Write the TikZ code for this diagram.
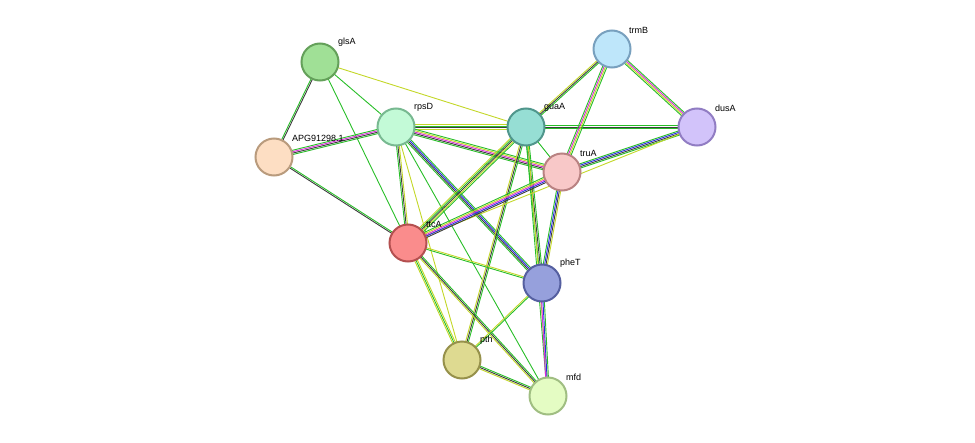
\documentclass[tikz,border=0pt]{standalone}
\usepackage{fontspec}
\setmainfont{Liberation Sans}
\usetikzlibrary{calc}
\definecolor{eg}{RGB}{40,190,40}
\definecolor{ey}{RGB}{195,215,40}
\definecolor{ek}{RGB}{60,60,60}
\definecolor{eb}{RGB}{40,40,230}
\definecolor{em}{RGB}{220,40,220}
\newcommand{\Edge}[3]{%
  \foreach \c [count=\i] in {#3}{\xdef\nn{\i}}%
  \foreach \c [count=\i] in {#3}{%
    \pgfmathsetmacro{\o}{(\i-(\nn+1)/2)*1.4}%
    \draw[line width=0.9pt,\c] ($(#1)!\o pt!90:(#2)$) -- ($(#2)!\o pt!-90:(#1)$);}}
\tikzset{nd/.style={circle,minimum size=37pt,line width=2pt,inner sep=0pt},
lb/.style={font=\fontsize{9}{10}\selectfont,anchor=south west,inner sep=1pt}}
\begin{document}
\begin{tikzpicture}[x=1pt,y=-1pt]
\useasboundingbox (0,0) rectangle (975,442);
\coordinate (glsA) at (320,62);
\coordinate (trmB) at (612,49);
\coordinate (rpsD) at (396,127);
\coordinate (guaA) at (526,127);
\coordinate (dusA) at (697,127);
\coordinate (APG) at (274,157);
\coordinate (truA) at (562,172);
\coordinate (ttcA) at (408,243);
\coordinate (pheT) at (542,283);
\coordinate (pth) at (462,360);
\coordinate (mfd) at (548,396);
\Edge{glsA}{APG}{eg,ek}
\Edge{glsA}{rpsD}{eg}
\Edge{glsA}{guaA}{ey}
\Edge{glsA}{ttcA}{eg}
\Edge{APG}{rpsD}{eg,ek,em,eg}
\Edge{APG}{ttcA}{ek,eg}
\Edge{rpsD}{guaA}{ey,ek,eg,ey}
\Edge{rpsD}{truA}{eg,ek,em,ey,eg}
\Edge{rpsD}{ttcA}{eg,ek,ey}
\Edge{rpsD}{pheT}{eg,ek,eb,eg}
\Edge{rpsD}{mfd}{eg}
\Edge{rpsD}{pth}{ey}
\Edge{guaA}{dusA}{eg,ek,eg}
\Edge{guaA}{trmB}{eg,ek,ey}
\Edge{guaA}{truA}{eg}
\Edge{guaA}{ttcA}{ey,eg,ek,ey,eg}
\Edge{guaA}{pheT}{eg,ek,eg}
\Edge{guaA}{pth}{ey,ek,eg}
\Edge{guaA}{mfd}{eg,ey}
\Edge{trmB}{dusA}{eg,ey,em,eg}
\Edge{trmB}{truA}{eg,em,ey,eg}
\Edge{dusA}{truA}{eg,eb,ek,eg}
\Edge{dusA}{ttcA}{ey}
\Edge{truA}{ttcA}{eg,ey,em,eb,ek}
\Edge{truA}{pheT}{eg,eb,ek,ey}
\Edge{ttcA}{pheT}{eg,ey}
\Edge{ttcA}{pth}{ey,eg,ey}
\Edge{ttcA}{mfd}{ey,ek,eg}
\Edge{pheT}{pth}{ey,eg}
\Edge{pheT}{mfd}{em,eb,eg}
\Edge{pth}{mfd}{ey,ek,eg}
\node[nd,fill={rgb,255:red,160;green,224;blue,150},draw={rgb,255:red,100;green,160;blue,90}] (n1) at (glsA) {};
\node[nd,fill={rgb,255:red,190;green,230;blue,250},draw={rgb,255:red,120;green,160;blue,190}] (n2) at (trmB) {};
\node[nd,fill={rgb,255:red,195;green,250;blue,215},draw={rgb,255:red,120;green,185;blue,145}] (n3) at (rpsD) {};
\node[nd,fill={rgb,255:red,150;green,222;blue,212},draw={rgb,255:red,80;green,150;blue,140}] (n4) at (guaA) {};
\node[nd,fill={rgb,255:red,210;green,195;blue,250},draw={rgb,255:red,145;green,125;blue,195}] (n5) at (dusA) {};
\node[nd,fill={rgb,255:red,253;green,222;blue,195},draw={rgb,255:red,185;green,155;blue,125}] (n6) at (APG) {};
\node[nd,fill={rgb,255:red,248;green,200;blue,200},draw={rgb,255:red,185;green,130;blue,130}] (n7) at (truA) {};
\node[nd,fill={rgb,255:red,250;green,140;blue,140},draw={rgb,255:red,180;green,80;blue,80}] (n8) at (ttcA) {};
\node[nd,fill={rgb,255:red,150;green,160;blue,220},draw={rgb,255:red,85;green,95;blue,160}] (n9) at (pheT) {};
\node[nd,fill={rgb,255:red,222;green,218;blue,145},draw={rgb,255:red,150;green,145;blue,75}] (n10) at (pth) {};
\node[nd,fill={rgb,255:red,228;green,252;blue,195},draw={rgb,255:red,160;green,190;blue,130}] (n11) at (mfd) {};
\node[lb] at (337,48) {glsA};
\node[lb] at (628,35) {trmB};
\node[lb] at (413,113) {rpsD};
\node[lb] at (543,113) {guaA};
\node[lb] at (714,113) {dusA};
\node[lb] at (291,143) {APG91298.1};
\node[lb] at (579,158) {truA};
\node[lb] at (425,229) {ttcA};
\node[lb] at (559,269) {pheT};
\node[lb] at (479,346) {pth};
\node[lb] at (565,382) {mfd};
\end{tikzpicture}
\end{document}
